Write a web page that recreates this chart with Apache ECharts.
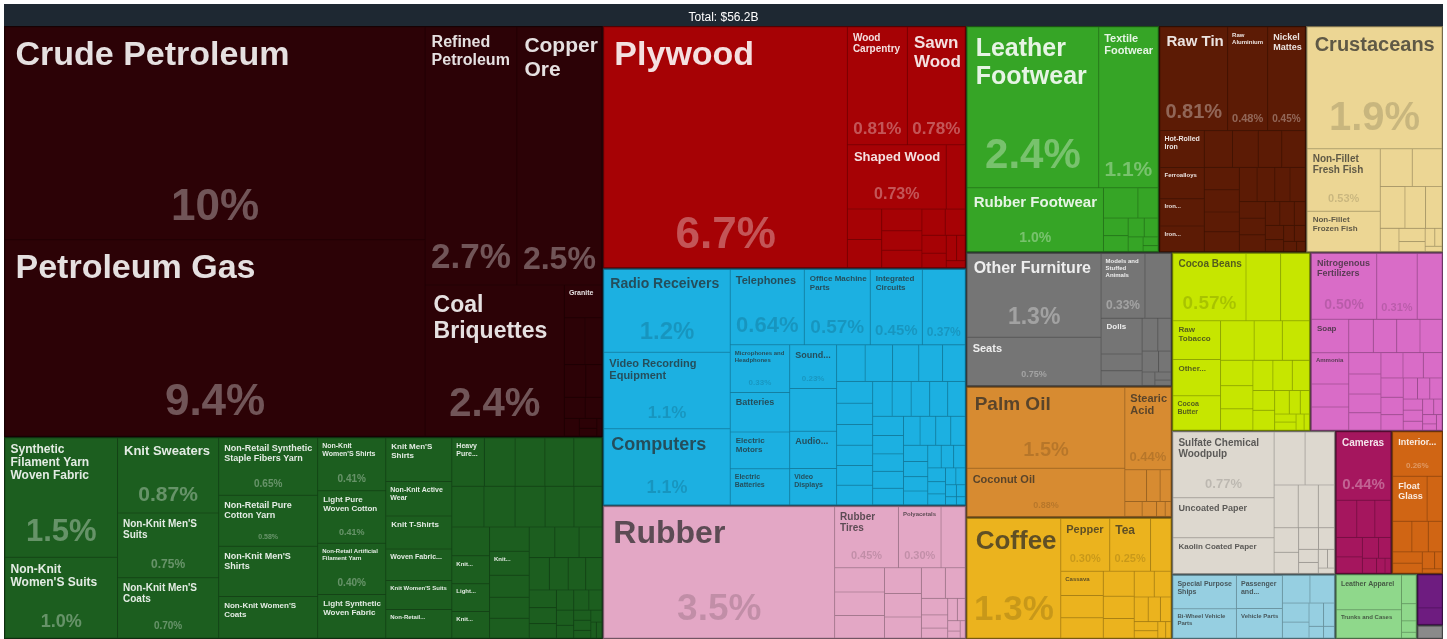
<!DOCTYPE html>
<html>
<head>
<meta charset="utf-8">
<script src="https://cdn.jsdelivr.net/npm/echarts@6/dist/echarts.min.js"></script>
<style>
html, body { margin: 0; padding: 0; background: #ffffff; }
#chart { width: 1447px; height: 639px; }
</style>
</head>
<body>
<div id="chart"></div>
<script>
// ---------------- DATA (share of total exports, %) ----------------
const totalText = 'Total: $56.2B';

const mineralLabeled = [['Crude Petroleum', 10.2], ['Petroleum Gas', 9.4], ['Refined Petroleum', 2.7], ['Copper Ore', 2.5], ['Coal Briquettes', 2.4], ['Granite', 0.14]];
const mineralOther = [['Aluminium Ore', 0.11], ['Cement', 0.09], ['Nickel Ore', 0.08], ['Lignite', 0.06], ['Petroleum Coke', 0.05], ['Kaolin', 0.04], ['Salt', 0.03], ['Sulphur', 0.02], ['Tin Ores', 0.015], ['Iron Ore', 0.01]];

const textilesLabeled = [
  ['Synthetic Filament Yarn Woven Fabric', 1.54], ["Non-Knit Women'S Suits", 1.04], ['Knit Sweaters', 0.87], ["Non-Knit Men'S Suits", 0.75], ["Non-Knit Men'S Coats", 0.70],
  ['Non-Retail Synthetic Staple Fibers Yarn', 0.65], ['Non-Retail Pure Cotton Yarn', 0.58], ["Non-Knit Men'S Shirts", 0.57], ["Non-Knit Women'S Coats", 0.47],
  ["Non-Knit Women'S Shirts", 0.412], ['Light Pure Woven Cotton', 0.41], ['Non-Retail Artificial Filament Yarn', 0.40], ['Light Synthetic Woven Fabric', 0.34],
  ["Knit Men'S Shirts", 0.33], ['Non-Knit Active Wear', 0.26], ['Knit T-Shirts', 0.25], ['Woven Fabric of Synthetic Staple Fibers', 0.24], ["Knit Women'S Suits", 0.22],
  ['Non-Retail Artificial Staple Fibers Yarn', 0.215], ['Heavy Pure Woven Cotton', 0.18], ['Light Mixed Woven Cotton', 0.12], ["Knit Babies' Garments", 0.12],
  ['Knit Socks and Hosiery', 0.115], ["Knit Women'S Shirts", 0.11]
];
const textilesOther = [
  ['Synthetic Monofilament', 0.17], ['Heavy Mixed Woven Cotton', 0.165], ['Knit Active Wear', 0.16], ["Non-Knit Babies' Garments", 0.155],
  ["Knit Men'S Coats", 0.15], ["Knit Women'S Coats", 0.145], ["Knit Men'S Suits", 0.14], ["Knit Women'S Undergarments", 0.135], ["Knit Men'S Undergarments", 0.13],
  ['Knit Gloves', 0.125], ["Non-Knit Men'S Undergarments", 0.11], ["Non-Knit Women'S Undergarments", 0.1], ['Brassieres', 0.095], ['Handkerchiefs', 0.09],
  ['Scarves', 0.09], ['Ties', 0.085], ['Non-Knit Gloves', 0.08], ['Bed Linens', 0.075], ['Curtains', 0.07], ['Blankets', 0.065], ['Tarpaulins', 0.06],
  ['Used Clothing', 0.055], ['Sacks', 0.05], ['Twine', 0.045], ['Carpets', 0.04], ['Embroidery', 0.035], ['Felt', 0.03], ['Nonwoven Textiles', 0.03],
  ['Wadding', 0.025], ['Lace', 0.02], ['Narrow Woven Fabric', 0.02], ['Denim', 0.015], ['Terry Fabric', 0.015], ['Pile Fabric', 0.01], ['Knitted Fabric', 0.01]
];

const woodLabeled = [['Plywood', 6.72], ['Wood Carpentry', 0.81], ['Sawn Wood', 0.78], ['Shaped Wood', 0.73]];
const woodOther = [['Wood Fiberboard', 0.14], ['Particle Board', 0.12], ['Veneer Sheets', 0.11], ['Wood Frames', 0.10], ['Wood Kitchenware', 0.09], ['Wood Ornaments', 0.08],
  ['Rough Wood', 0.07], ['Wood Charcoal', 0.06], ['Wooden Tool Handles', 0.05], ['Wood Crates', 0.04], ['Wooden Barrels', 0.03], ['Basketwork', 0.025], ['Cork Articles', 0.015]];

const machinesLabeled = [['Radio Receivers', 1.2], ['Video Recording Equipment', 1.11], ['Computers', 1.1], ['Telephones', 0.64], ['Office Machine Parts', 0.57],
  ['Integrated Circuits', 0.45], ['Semiconductor Devices', 0.37], ['Microphones and Headphones', 0.325], ['Batteries', 0.27], ['Electric Motors', 0.25],
  ['Electric Batteries', 0.245], ['Sound Recording Equipment', 0.235], ['Audio and Video Recording Parts', 0.2], ['Video Displays', 0.195]];
const machinesOther = [['Electrical Transformers', 0.23], ['Air Conditioners', 0.12], ['Electrical Capacitors', 0.115], ['Insulated Wire', 0.11], ['Electric Filament', 0.1],
  ['Low-voltage Protection Equipment', 0.095], ['Electrical Control Boards', 0.09], ['Printed Circuit Boards', 0.088], ['Refrigerators', 0.086], ['Electric Heaters', 0.084],
  ['Sewing Machines', 0.082], ['Liquid Pumps', 0.08], ['Valves', 0.078], ['Ball Bearings', 0.076], ['Engine Parts', 0.074], ['Centrifuges', 0.072], ['Electric Generators', 0.07],
  ['Cathode Tubes', 0.068], ['Diodes', 0.065], ['Electrical Resistors', 0.062], ['Electrical Ignitions', 0.06], ['Lighting Equipment', 0.058], ['Soldering Equipment', 0.055],
  ['Washing Machines', 0.052], ['Blank Audio Media', 0.05], ['Fans', 0.048], ['Gas Turbines', 0.045], ['Industrial Printers', 0.042], ['Transmissions', 0.04],
  ['Vacuum Cleaners', 0.038], ['Shaving Razors', 0.035], ['Hair Trimmers', 0.032], ['Electric Water Heaters', 0.03], ['Textile Machinery', 0.028],
  ['Spark-Ignition Engines', 0.025], ['Air Pumps', 0.022], ['Lifting Machinery', 0.02], ['Electromagnets', 0.018], ['Traffic Signals', 0.015], ['Scales', 0.012],
  ['Calculators', 0.01], ['Typewriters', 0.008]];

const plasticsLabeled = [['Rubber', 3.5], ['Rubber Tires', 0.45], ['Polyacetals', 0.3], ['Plastic Lids', 0.17]];
const plasticsOther = [['Plastic Pipes', 0.14], ['Rubber Belting', 0.135], ['Plastic Housewares', 0.13], ['Ethylene Polymers', 0.11], ['Propylene Polymers', 0.1],
  ['Rubber Pipes', 0.09], ['Rubber Thread', 0.085], ['Polyamides', 0.07], ['Plastic Floor Coverings', 0.05], ['Rubber Sheets', 0.04], ['Raw Plastic Sheeting', 0.03],
  ['Polyesters', 0.025], ['Vinyl Chloride Polymers', 0.02], ['Other Plastic Sheetings', 0.015], ['Synthetic Rubber', 0.01], ['Reclaimed Rubber', 0.01]];

const footwearLabeled = [['Leather Footwear', 2.44], ['Textile Footwear', 1.1], ['Rubber Footwear', 1.0]];
const footwearOther = [['Footwear Parts', 0.12], ['Hats', 0.07], ['Umbrellas', 0.05], ['Artificial Flowers', 0.045], ['Wigs', 0.035], ['Knit Hats', 0.03],
  ['Other Footwear', 0.025], ['Walking Sticks', 0.015], ['Feathers', 0.01]];

const metalsLabeled = [['Raw Tin', 0.81], ['Raw Aluminium', 0.48], ['Nickel Mattes', 0.45], ['Hot-Rolled Iron', 0.19], ['Ferroalloys', 0.16], ['Iron Housewares', 0.14], ['Iron Structures', 0.13]];
const metalsOther = [['Copper Wire', 0.12], ['Refined Copper', 0.11], ['Aluminium Plating', 0.1], ['Iron Pipes', 0.1], ['Tin Bars', 0.09], ['Steel Wire', 0.09],
  ['Iron Fasteners', 0.08], ['Aluminium Foil', 0.08], ['Copper Pipes', 0.07], ['Cold-Rolled Iron', 0.07], ['Stranded Copper Wire', 0.06], ['Iron Bars', 0.06],
  ['Scrap Iron', 0.05], ['Scrap Copper', 0.05], ['Hand Tools', 0.05], ['Cutlery', 0.04], ['Padlocks', 0.04], ['Aluminium Bars', 0.03], ['Iron Wire', 0.03],
  ['Zinc Bars', 0.025], ['Lead Bars', 0.02], ['Iron Chain', 0.02], ['Springs', 0.015], ['Metal Signs', 0.01]];

const animalLabeled = [['Crustaceans', 1.9], ['Non-Fillet Fresh Fish', 0.53], ['Non-Fillet Frozen Fish', 0.34]];
const animalOther = [['Fish Fillets', 0.14], ['Molluscs', 0.13], ['Dried Fish', 0.12], ['Live Fish', 0.1], ['Edible Offal', 0.08], ['Milk', 0.05], ['Honey', 0.04],
  ['Eggs', 0.03], ['Bovine Meat', 0.02], ['Poultry Meat', 0.015], ['Animal Hair', 0.01]];

const miscLabeled = [['Other Furniture', 1.3], ['Seats', 0.75], ['Models and Stuffed Animals', 0.33], ['Dolls', 0.17]];
const miscOther = [['Video and Card Games', 0.195], ['Lighting Fixtures', 0.08], ['Ball Point Pens', 0.07], ['Brooms', 0.06], ['Buttons', 0.05], ['Lighters', 0.04],
  ['Pencils', 0.03], ['Zippers', 0.02], ['Combs', 0.015], ['Prefabricated Buildings', 0.01]];

const oilsLabeled = [['Palm Oil', 1.48], ['Coconut Oil', 0.88], ['Stearic Acid', 0.44]];
const oilsOther = [['Glycerol', 0.08], ['Hydrogenated Oils', 0.05], ['Margarine', 0.04], ['Animal Fats', 0.03], ['Soybean Oil', 0.025], ['Waxes', 0.015], ['Other Vegetable Oils', 0.01]];

const vegLabeled = [['Coffee', 1.3], ['Pepper', 0.3], ['Tea', 0.25], ['Cassava', 0.12]];
const vegOther = [['Tropical Fruits', 0.125], ['Copra', 0.11], ['Vanilla', 0.1], ['Nutmeg', 0.09], ['Cinnamon', 0.08], ['Cut Flowers', 0.07], ['Ginger', 0.06],
  ['Legumes', 0.05], ['Vegetable Saps', 0.04], ['Seeds for Sowing', 0.035], ['Other Nuts', 0.03], ['Onions', 0.025], ['Rice', 0.02], ['Corn', 0.015], ['Bananas', 0.01]];

const foodLabeled = [['Cocoa Beans', 0.57], ['Raw Tobacco', 0.215], ['Other Processed Fruits and Nuts', 0.2], ['Cocoa Butter', 0.19]];
const foodOther = [['Animal Food', 0.27], ['Rolled Tobacco', 0.225], ['Processed Fish', 0.155], ['Processed Crustaceans', 0.13], ['Coffee and Tea Extracts', 0.125],
  ['Cocoa Powder', 0.095], ['Sauces and Seasonings', 0.087], ['Baked Goods', 0.08], ['Raw Sugar', 0.07], ['Chocolate', 0.068], ['Pasta', 0.06], ['Fruit Juice', 0.05],
  ['Tapioca', 0.05], ['Molasses', 0.04], ['Ice Cream', 0.03], ['Flavored Water', 0.025], ['Soups', 0.02], ['Beer', 0.02], ['Hard Liquor', 0.015], ['Vinegar', 0.01]];

const chemLabeled = [['Nitrogenous Fertilizers', 0.5], ['Polycarboxylic Acids', 0.31], ['Soap', 0.145], ['Ammonia', 0.135]];
const chemOther = [['Essential Oils', 0.19], ['Packaged Medicaments', 0.1], ['Beauty Products', 0.1], ['Cleaning Products', 0.095], ['Pigments', 0.09],
  ['Industrial Fatty Acids', 0.09], ['Glues', 0.085], ['Explosives', 0.08], ['Pesticides', 0.075], ['Hair Products', 0.07], ['Perfumes', 0.065], ['Dental Products', 0.065],
  ['Activated Carbon', 0.06], ['Tanning Extracts', 0.055], ['Phosphatic Fertilizers', 0.05], ['Mixed Fertilizers', 0.045], ['Catalysts', 0.04], ['Ink', 0.035],
  ['Paints', 0.03], ['Vitamins', 0.03], ['Antibiotics', 0.025], ['Enzymes', 0.025], ['Gelatin', 0.02], ['Candles', 0.02], ['Matches', 0.015],
  ['Photographic Film', 0.015], ['Sulfuric Acid', 0.01], ['Lubricants', 0.01]];

const paperLabeled = [['Sulfate Chemical Woodpulp', 0.77], ['Uncoated Paper', 0.47], ['Kaolin Coated Paper', 0.42]];
const paperOther = [['Cardboard', 0.19], ['Toilet Paper', 0.18], ['Paper Containers', 0.12], ['Newsprint', 0.1], ['Other Printed Material', 0.08], ['Books', 0.07],
  ['Coated Paper', 0.06], ['Wallpaper', 0.05], ['Paper Notebooks', 0.04], ['Cigarette Paper', 0.03], ['Paper Labels', 0.025], ['Envelopes', 0.02],
  ['Carbon Paper', 0.015], ['Tissue Paper', 0.01]];

const transportLabeled = [['Special Purpose Ships', 0.25], ['Bi-Wheel Vehicle Parts', 0.22], ['Passenger and Cargo Ships', 0.18], ['Vehicle Parts', 0.16]];
const transportOther = [['Motorcycles', 0.09], ['Cars', 0.08], ['Aircraft Parts', 0.06], ['Bicycles', 0.05], ['Delivery Trucks', 0.04], ['Boats', 0.03],
  ['Railway Cars', 0.02], ['Trailers', 0.015]];

const instrumentsLabeled = [['Cameras', 0.44]];
const instrumentsOther = [['Photo Lab Equipment', 0.09], ['Optical Fibers', 0.08], ['Lenses', 0.07], ['Watches', 0.06], ['Medical Instruments', 0.05],
  ['Eyeglasses', 0.04], ['Electric Measuring Instruments', 0.03], ['Clocks', 0.025], ['Musical Instruments', 0.015], ['Thermostats', 0.01]];

const stoneLabeled = [['Interior Decorative Glassware', 0.26], ['Float Glass', 0.185]];
const stoneOther = [['Glass Bottles', 0.08], ['Ceramic Tableware', 0.07], ['Ceramic Tiles', 0.06], ['Glass Fibers', 0.05], ['Toilet Porcelain', 0.04],
  ['Building Stone', 0.035], ['Abrasive Powder', 0.025], ['Safety Glass', 0.015], ['Glass Bricks', 0.01]];

const hidesLabeled = [['Leather Apparel', 0.27], ['Trunks and Cases', 0.22]];
const hidesOther = [['Tanned Bovine Hides', 0.05], ['Leather Handbags', 0.03], ['Raw Hides', 0.02], ['Saddlery', 0.01]];

const preciousOther = [['Jewellery', 0.1], ['Gold', 0.05]];
const artsOther = [['Paintings', 0.04]];

const sectors = [
  ['Mineral Products', mineralLabeled, mineralOther],
  ['Textiles', textilesLabeled, textilesOther],
  ['Wood Products', woodLabeled, woodOther],
  ['Machines', machinesLabeled, machinesOther],
  ['Plastics and Rubbers', plasticsLabeled, plasticsOther],
  ['Footwear and Headwear', footwearLabeled, footwearOther],
  ['Metals', metalsLabeled, metalsOther],
  ['Animal Products', animalLabeled, animalOther],
  ['Miscellaneous', miscLabeled, miscOther],
  ['Animal and Vegetable Bi-Products', oilsLabeled, oilsOther],
  ['Vegetable Products', vegLabeled, vegOther],
  ['Foodstuffs', foodLabeled, foodOther],
  ['Chemical Products', chemLabeled, chemOther],
  ['Paper Goods', paperLabeled, paperOther],
  ['Transportation', transportLabeled, transportOther],
  ['Instruments', instrumentsLabeled, instrumentsOther],
  ['Stone and Glass', stoneLabeled, stoneOther],
  ['Animal Hides', hidesLabeled, hidesOther],
  ['Precious Metals', [], preciousOther],
  ['Arts and Antiques', [], artsOther]
];

// ---------------- STYLE ----------------
const sectorColors = {
  'Mineral Products': '#2c0206', 'Textiles': '#1c5e1f', 'Wood Products': '#a60205', 'Machines': '#1cb0e1',
  'Plastics and Rubbers': '#e3a7c5', 'Footwear and Headwear': '#36a526', 'Metals': '#5c1b05', 'Animal Products': '#ecd694',
  'Miscellaneous': '#757575', 'Animal and Vegetable Bi-Products': '#d78b31', 'Vegetable Products': '#ebb31e', 'Foodstuffs': '#c6e600',
  'Chemical Products': '#d96cc7', 'Paper Goods': '#ddd8cf', 'Transportation': '#96cfe1', 'Instruments': '#a5165e',
  'Stone and Glass': '#d06514', 'Animal Hides': '#8fd88b', 'Precious Metals': '#6e1c80', 'Arts and Antiques': '#8a8a8a'
};
const darkTextSectors = ['Machines', 'Plastics and Rubbers', 'Animal Products', 'Animal and Vegetable Bi-Products', 'Vegetable Products',
  'Foodstuffs', 'Chemical Products', 'Paper Goods', 'Transportation', 'Animal Hides'];

const FF = '"Liberation Sans", Arial, Helvetica, sans-serif';
const PAD = 3;
const COL = {
  nL: 'rgba(255,255,255,0.88)', pL: 'rgba(255,255,255,0.33)',
  nD: 'rgba(40,40,40,0.72)', pD: 'rgba(0,0,0,0.15)'
};

function shade(hex, f) {
  const n = parseInt(hex.slice(1), 16);
  const r = (n >> 16) & 255, g = (n >> 8) & 255, b = n & 255;
  return 'rgb(' + Math.round(r * f) + ',' + Math.round(g * f) + ',' + Math.round(b * f) + ')';
}

const lh = fs => Math.round(fs * 1.12);
const plh = fs => Math.round(fs * 1.1);
const topPad = fs => Math.round(fs * 0.18);
const leftPad = fs => Math.max(1, Math.round(fs * 0.2));

const RICH = {};
for (let fs = 5; fs <= 48; fs++) {
  ['L', 'D'].forEach(k => {
    RICH['n' + k + fs] = { fontSize: fs, fontWeight: 'bold', fontFamily: FF, lineHeight: lh(fs), color: COL['n' + k], align: 'left', padding: [0, 0, 0, leftPad(fs)] };
    RICH['p' + k + fs] = { fontSize: fs, fontWeight: 'bold', fontFamily: FF, lineHeight: plh(fs), color: COL['p' + k], align: 'center' };
  });
}
for (let s = 1; s <= 660; s++) RICH['s' + s] = { fontSize: 1, lineHeight: s, align: 'left' };

const mctx = document.createElement('canvas').getContext('2d');
const wcache = {};
function tw(t, fs) {
  const k = fs + '|' + t;
  if (wcache[k] === undefined) { mctx.font = 'bold ' + fs + 'px ' + FF; wcache[k] = mctx.measureText(t).width; }
  return wcache[k];
}
function wrap(words, fs, maxW) {
  const lines = []; let cur = '';
  for (const w of words) {
    if (tw(w, fs) > maxW) return null;
    const t = cur ? cur + ' ' + w : w;
    if (!cur || tw(t, fs) <= maxW) cur = t; else { lines.push(cur); cur = w; }
  }
  if (cur) lines.push(cur);
  return lines;
}
function truncFit(words, fs, avail, maxLines) {
  const lines = []; let cur = '';
  for (let i = 0; i < words.length; i++) {
    const w = words[i];
    const t = cur ? cur + ' ' + w : w;
    if (tw(t, fs) <= avail) { cur = t; continue; }
    if (cur && lines.length + 1 < maxLines && tw(w, fs) <= avail) { lines.push(cur); cur = w; continue; }
    break;
  }
  let last = cur;
  while (last && tw(last + '...', fs) > avail) { const ws = last.split(' '); ws.pop(); last = ws.join(' '); }
  if (!last) return null;
  lines.push(last + '...');
  return lines;
}
function fitName(name, aw, boxH, maxFs) {
  const words = name.split(' ');
  for (let fs = maxFs; fs >= 6; fs--) {
    const L = wrap(words, fs, aw - leftPad(fs));
    if (L && topPad(fs) + L.length * lh(fs) <= boxH) return { fs: fs, lines: L };
  }
  for (let fs = Math.min(9, maxFs); fs >= 6; fs--) {
    const maxLines = Math.floor((boxH - topPad(fs)) / lh(fs));
    if (maxLines < 1) continue;
    const L = truncFit(words, fs, aw - leftPad(fs), maxLines);
    if (L) return { fs: fs, lines: L };
  }
  return null;
}
function fmtPct(v) { return (v >= 10 ? String(Math.round(v)) : v.toPrecision(2)) + '%'; }

function buildLabel(name, value, w, h, dark) {
  const aw = w - 2 * PAD, ah = h - 2 * PAD;
  if (aw < 10 || ah < 6) return '';
  const K = dark ? 'D' : 'L';
  const frac = Math.max(0.4, Math.min(0.68, 0.68 - (ah - 25) * 0.0075));
  const maxFs = Math.max(6, Math.min(34, Math.floor(h * 0.25)));
  const nm = fitName(name, aw, ah * frac, maxFs);
  let used = 0, out = '';
  if (nm) {
    const tp = topPad(nm.fs);
    if (tp > 0) { out += '{s' + tp + '| }\n'; used += tp; }
    out += '{n' + K + nm.fs + '|' + nm.lines.join('\n') + '}';
    used += nm.lines.length * lh(nm.fs);
  }
  const pct = fmtPct(value);
  const avail = ah - used;
  let pfs = Math.min(44, Math.floor(avail * 0.5 - 4));
  while (pfs >= 7 && tw(pct, pfs) > aw * 0.95) pfs--;
  if (pfs >= 7 && w * h >= 1900) {
    const sp = Math.floor(avail - plh(pfs) - pfs * 0.08) - 1;
    if (sp >= 0) {
      if (out) out += '\n';
      if (sp >= 1) out += '{s' + sp + '| }\n';
      out += '{p' + K + pfs + '|' + pct + '}';
    }
  }
  return out;
}

// ---------------- BUILD TREE ----------------
const treeData = sectors.map(([sector, labeled, other]) => {
  const c = sectorColors[sector];
  const dark = darkTextSectors.indexOf(sector) >= 0;
  const leaf = (arr, show) => arr.map(([name, value]) => ({
    name: name, value: value, showLabel: show, dark: dark,
    itemStyle: { color: c, borderColor: shade(c, 0.8) }
  }));
  return {
    name: sector,
    itemStyle: { color: c, borderColor: shade(c, 0.5) },
    children: leaf(labeled, true).concat(leaf(other, false))
  };
});

const chart = echarts.init(document.getElementById('chart'), null, { renderer: 'canvas' });

function nodeRect(idx) {
  try {
    const m = chart.getModel ? chart.getModel() : chart._model;
    return m.getSeriesByIndex(0).getData().getItemLayout(idx);
  } catch (e) { return null; }
}

chart.setOption({
  animation: false,
  backgroundColor: '#ffffff',
  title: {
    text: totalText, left: 'center', top: 7,
    textStyle: { color: '#ffffff', fontSize: 12, fontWeight: 'normal', fontFamily: FF }
  },
  graphic: [{
    type: 'rect', z: -1, silent: true,
    shape: { x: 4, y: 4, width: 1439, height: 22 },
    style: { fill: '#1e2832' }
  }],
  series: [{
    type: 'treemap',
    left: 4, top: 26, width: 1439, height: 613,
    roam: false, nodeClick: false, silent: true,
    breadcrumb: { show: false },
    squareRatio: 0.5 * (1 + Math.sqrt(5)),
    sort: 'desc',
    visibleMin: 1,
    upperLabel: { show: false },
    label: {
      show: true, padding: PAD, fontFamily: FF, rich: RICH,
      formatter: function (p) {
        const d = p.data;
        if (!d || !d.showLabel) return '';
        const r = nodeRect(p.dataIndex);
        if (!r) return '';
        const bw = 0.5;
        return buildLabel(p.name, +p.value, r.width - 2 * bw, r.height - 2 * bw, d.dark);
      }
    },
    levels: [
      { itemStyle: { borderWidth: 0, gapWidth: 0, borderColor: '#1e2832' } },
      { itemStyle: { borderWidth: 1, gapWidth: 0 } },
      { itemStyle: { borderWidth: 0.5, gapWidth: 0 } }
    ],
    data: treeData
  }]
});
</script>
</body>
</html>
